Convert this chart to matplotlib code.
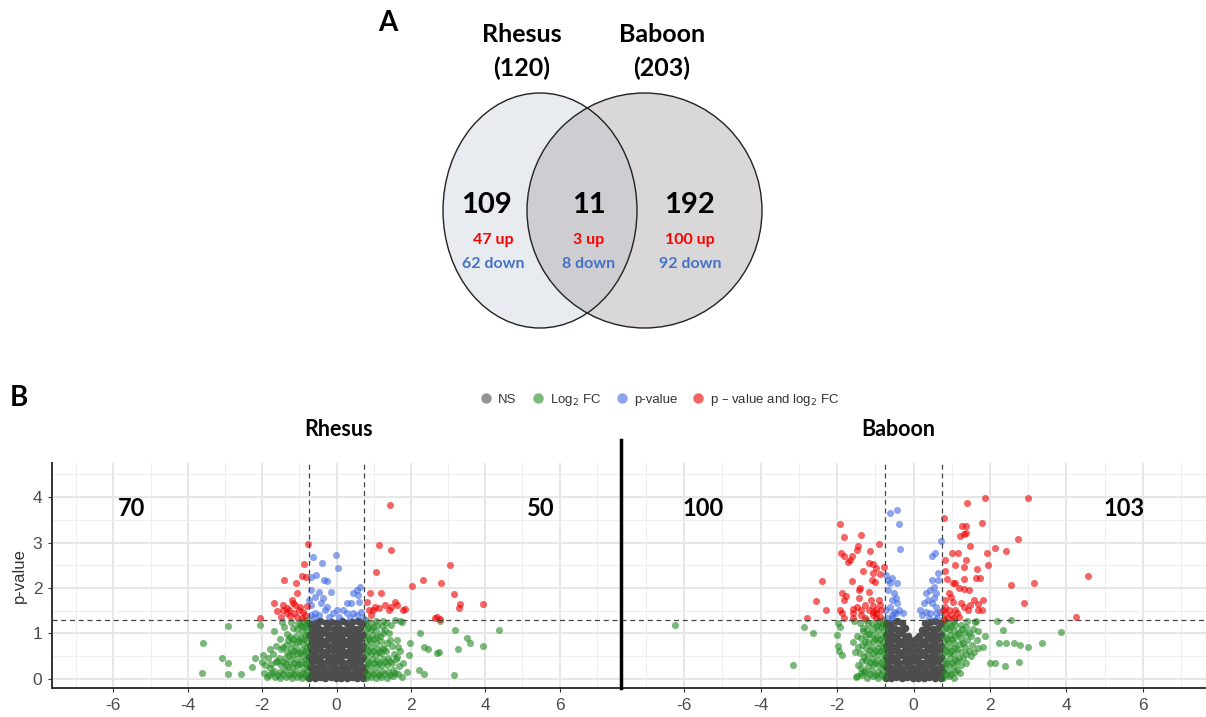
import matplotlib.pyplot as plt
from matplotlib.patches import Ellipse
from matplotlib.lines import Line2D

plt.rcParams['font.family'] = ['Liberation Sans', 'DejaVu Sans']
plt.rcParams['axes.unicode_minus'] = False
CAL = ['Lato', 'DejaVu Sans']  # stand-in for the Calibri used in the original

# ---- panel A : Venn counts ----
species = ['Rhesus', 'Baboon']
species_totals = [120, 203]
venn_counts = [109, 11, 192]  # rhesus only, shared, baboon only
venn_up = [47, 3, 100]
venn_down = [62, 8, 92]

# ---- panel B : volcano data (log2 FC, -log10 p) ----
fc_cut = 0.75
p_cut = 1.3
rhesus_side_counts = [70, 50]
baboon_side_counts = [100, 103]

rhesus_ns = [
    (-0.73, 0.03), (-0.58, 0.01), (-0.45, 0.04), (-0.30, 0.02), (-0.16, 0.05), (-0.02, 0.01), (0.12, 0.03), (0.27, 0.02), (0.41, 0.05), (0.56, 0.01), (0.71, 0.03),
    (-0.67, 0.14), (-0.52, 0.12), (-0.38, 0.15), (-0.23, 0.13), (-0.09, 0.16), (0.05, 0.12), (0.20, 0.15), (0.34, 0.13), (0.49, 0.16), (0.63, 0.12), (0.74, 0.17),
    (-0.72, 0.26), (-0.59, 0.24), (-0.44, 0.27), (-0.31, 0.25), (-0.15, 0.28), (-0.01, 0.24), (0.14, 0.27), (0.28, 0.25), (0.43, 0.28), (0.57, 0.24), (0.71, 0.27),
    (-0.66, 0.37), (-0.51, 0.39), (-0.37, 0.36), (-0.22, 0.40), (-0.08, 0.37), (0.06, 0.39), (0.21, 0.36), (0.35, 0.40), (0.50, 0.37), (0.64, 0.39),
    (-0.73, 0.49), (-0.58, 0.51), (-0.44, 0.48), (-0.29, 0.52), (-0.15, 0.49), (0.00, 0.51), (0.13, 0.48), (0.28, 0.52), (0.42, 0.49), (0.57, 0.51), (0.72, 0.48),
    (-0.66, 0.61), (-0.52, 0.63), (-0.37, 0.60), (-0.23, 0.64), (-0.08, 0.61), (0.07, 0.63), (0.21, 0.60), (0.35, 0.64), (0.50, 0.61), (0.64, 0.63),
    (-0.72, 0.73), (-0.59, 0.75), (-0.44, 0.72), (-0.30, 0.76), (-0.15, 0.73), (0.00, 0.75), (0.14, 0.72), (0.28, 0.76), (0.43, 0.73), (0.57, 0.75), (0.71, 0.72),
    (-0.66, 0.85), (-0.51, 0.87), (-0.37, 0.84), (-0.22, 0.88), (-0.08, 0.85), (0.07, 0.87), (0.21, 0.84), (0.36, 0.88), (0.50, 0.85), (0.64, 0.87),
    (-0.73, 0.97), (-0.58, 0.99), (-0.44, 0.96), (-0.29, 1.00), (-0.15, 0.97), (0.00, 0.99), (0.14, 0.96), (0.29, 1.00), (0.43, 0.97), (0.57, 0.99), (0.72, 0.96),
    (-0.66, 1.09), (-0.51, 1.11), (-0.37, 1.08), (-0.22, 1.12), (-0.08, 1.09), (0.07, 1.11), (0.21, 1.08), (0.36, 1.12), (0.50, 1.09), (0.64, 1.11),
    (-0.72, 1.21), (-0.58, 1.24), (-0.44, 1.27), (-0.29, 1.22), (-0.15, 1.26), (0.00, 1.23), (0.14, 1.27), (0.29, 1.22), (0.43, 1.25), (0.57, 1.28), (0.72, 1.23),
]
rhesus_fc = [
    (-0.78, 0.05), (-0.80, 0.18), (-0.79, 0.31), (-0.81, 0.44), (-0.78, 0.57), (-0.80, 0.70), (-0.79, 0.83), (-0.81, 0.96), (-0.78, 1.09), (-0.80, 1.22), (-0.79, 1.29),
    (-0.92, 0.02), (-0.94, 0.12), (-0.91, 0.25), (-0.95, 0.38), (-0.92, 0.51), (-0.94, 0.64), (-0.91, 0.77), (-0.95, 0.90), (-0.92, 1.03), (-0.94, 1.16), (-0.91, 1.27),
    (-1.06, 0.04), (-1.08, 0.17), (-1.05, 0.30), (-1.09, 0.43), (-1.06, 0.56), (-1.08, 0.69), (-1.05, 0.82), (-1.09, 0.95), (-1.07, 1.10), (-1.04, 1.24),
    (-1.21, 0.02), (-1.23, 0.14), (-1.20, 0.27), (-1.24, 0.40), (-1.21, 0.53), (-1.23, 0.66), (-1.19, 0.80), (-1.25, 0.93), (-1.18, 1.12), (-1.22, 1.26),
    (-1.36, 0.05), (-1.38, 0.19), (-1.35, 0.32), (-1.39, 0.46), (-1.34, 0.60), (-1.37, 0.75), (-1.33, 0.98), (-1.40, 1.15),
    (-1.51, 0.03), (-1.53, 0.16), (-1.50, 0.30), (-1.55, 0.47), (-1.49, 0.66), (-1.52, 0.88), (-1.47, 1.26),
    (-1.66, 0.04), (-1.68, 0.18), (-1.64, 0.38), (-1.70, 0.55), (-1.62, 0.72), (-1.69, 1.06),
    (-1.82, 0.08), (-1.80, 0.24), (-1.85, 0.45), (-1.78, 0.65), (-1.96, 0.12), (-1.93, 0.30), (-1.98, 0.52),
    (-0.85, 0.10), (-0.86, 0.36), (-0.84, 0.62), (-0.87, 0.88), (-0.85, 1.14), (-0.99, 0.08), (-1.00, 0.33), (-0.98, 0.58), (-1.01, 0.84), (-0.99, 1.18),
    (-1.14, 0.10), (-1.15, 0.36), (-1.13, 0.62), (-1.16, 0.88), (-1.29, 0.09), (-1.30, 0.26), (-1.28, 0.52), (-1.31, 0.85), (-1.44, 0.11), (-1.45, 0.38),
    (-1.43, 0.70), (-1.58, 0.09), (-1.60, 0.40), (-1.74, 0.12), (-1.75, 0.33), (-1.88, 0.05),
    (-3.60, 0.79), (-3.63, 0.12), (-3.09, 0.46), (-2.91, 0.34), (-2.91, 1.17), (-2.92, 0.11), (-2.57, 0.11), (-2.28, 0.26), (-2.20, 0.46), (-2.07, 1.18), (-2.01, 0.38),
    (0.78, 0.03), (0.80, 0.16), (0.79, 0.29), (0.81, 0.42), (0.78, 0.55), (0.80, 0.68), (0.79, 0.81), (0.81, 0.94), (0.78, 1.07), (0.80, 1.20), (0.79, 1.29),
    (0.92, 0.05), (0.94, 0.18), (0.91, 0.31), (0.95, 0.44), (0.92, 0.57), (0.94, 0.70), (0.91, 0.83), (0.95, 0.96), (0.92, 1.09), (0.94, 1.22),
    (1.06, 0.02), (1.08, 0.14), (1.05, 0.27), (1.09, 0.40), (1.06, 0.53), (1.08, 0.66), (1.05, 0.79), (1.09, 0.92), (1.06, 1.05), (1.08, 1.18), (1.05, 1.28),
    (1.21, 0.04), (1.23, 0.17), (1.20, 0.30), (1.24, 0.43), (1.21, 0.56), (1.23, 0.69), (1.19, 0.84), (1.25, 1.00), (1.22, 1.16), (1.26, 1.27),
    (1.36, 0.03), (1.38, 0.16), (1.35, 0.31), (1.39, 0.47), (1.34, 0.62), (1.37, 0.80), (1.40, 1.02), (1.33, 1.24),
    (1.51, 0.06), (1.53, 0.20), (1.50, 0.36), (1.55, 0.55), (1.49, 0.72), (1.46, 1.19),
    (1.66, 0.10), (1.68, 0.28), (1.64, 0.48), (1.70, 0.62), (1.72, 1.27),
    (0.85, 0.09), (0.86, 0.35), (0.84, 0.61), (0.87, 0.87), (0.85, 1.13), (0.99, 0.10), (1.00, 0.36), (0.98, 0.62), (1.01, 0.87), (0.99, 1.15),
    (1.14, 0.08), (1.15, 0.34), (1.13, 0.60), (1.16, 0.95), (1.29, 0.10), (1.30, 0.37), (1.28, 0.66), (1.31, 1.08), (1.44, 0.09), (1.45, 0.40),
    (1.43, 0.85), (1.58, 0.12), (1.60, 0.44), (1.76, 0.05), (1.80, 0.35),
    (4.38, 1.08), (3.95, 0.73), (3.58, 0.80), (3.51, 0.91), (3.19, 1.08), (3.28, 0.65), (3.17, 0.09), (2.78, 1.28), (2.24, 1.01), (2.35, 0.71),
    (2.47, 0.65), (2.70, 0.57), (2.76, 0.60), (1.98, 0.79), (1.95, 0.53), (1.90, 0.16), (2.22, 0.20), (2.35, 0.11), (1.76, 1.25), (1.58, 1.30), (1.63, 0.86), (1.66, 0.71),
]
rhesus_pv = [
    (-0.64, 2.69), (-0.01, 2.73), (-0.38, 2.56), (0.05, 2.44), (-0.54, 2.29), (-0.33, 2.18), (-0.25, 2.16), (-0.68, 2.25), (0.63, 2.03), (0.56, 1.96),
    (0.45, 1.90), (0.59, 1.85), (-0.68, 1.96), (-0.46, 1.92), (-0.16, 1.92), (-0.57, 1.81), (-0.35, 1.78), (-0.41, 1.67), (-0.68, 1.63), (-0.25, 1.59),
    (0.02, 1.52), (-0.09, 1.45), (0.29, 1.67), (0.40, 1.67), (0.61, 1.70), (0.18, 1.52), (0.29, 1.45), (0.45, 1.45), (0.56, 1.41), (0.08, 1.37),
    (-0.57, 1.45), (-0.46, 1.41), (-0.68, 1.41), (0.67, 1.48), (-0.73, 1.74), (-0.30, 1.52), (-0.20, 1.36), (0.35, 1.35), (-0.60, 1.33), (0.70, 1.33),
]
rhesus_both = [
    (1.44, 3.83), (1.14, 2.94), (1.46, 2.83), (3.04, 2.50), (1.06, 2.35), (2.32, 2.17), (2.80, 2.11), (2.04, 2.05), (0.89, 1.90), (1.20, 1.90),
    (3.16, 1.86), (3.94, 1.64), (3.33, 1.64), (3.30, 1.57), (0.83, 1.70), (1.04, 1.59), (1.15, 1.57), (1.31, 1.63), (1.47, 1.59), (1.58, 1.70),
    (1.63, 1.63), (1.79, 1.52), (1.85, 1.53), (1.42, 1.52), (0.93, 1.41), (0.99, 1.52), (2.71, 1.37), (2.65, 1.34), (0.88, 1.52), (2.77, 1.31),
    (-0.77, 2.97), (-0.88, 2.52), (-0.93, 2.27), (-0.81, 2.25), (-1.40, 2.18), (-1.10, 2.11), (-1.05, 1.89), (-1.68, 1.67), (-1.21, 1.74), (-1.16, 1.68),
    (-1.34, 1.56), (-1.27, 1.52), (-1.00, 1.52), (-0.89, 1.48), (-0.98, 1.59), (-1.13, 1.45), (-1.43, 1.52), (-1.59, 1.50), (-1.32, 1.45), (-0.84, 1.41),
    (-2.06, 1.35), (-1.25, 1.38), (-1.05, 1.36), (-0.92, 1.34), (-1.50, 1.36), (-0.80, 1.60), (-1.12, 1.62), (-1.45, 1.62),
]

baboon_ns = [
    (-0.73, 0.03), (-0.58, 0.01), (-0.45, 0.04), (-0.30, 0.02), (-0.16, 0.05), (-0.02, 0.01), (0.12, 0.03), (0.27, 0.02), (0.41, 0.05), (0.56, 0.01), (0.71, 0.03),
    (-0.67, 0.14), (-0.52, 0.12), (-0.38, 0.15), (-0.23, 0.13), (-0.09, 0.16), (0.05, 0.12), (0.20, 0.15), (0.34, 0.13), (0.49, 0.16), (0.63, 0.12), (0.74, 0.17),
    (-0.72, 0.26), (-0.59, 0.24), (-0.44, 0.27), (-0.31, 0.25), (-0.15, 0.28), (-0.01, 0.24), (0.14, 0.27), (0.28, 0.25), (0.43, 0.28), (0.57, 0.24), (0.71, 0.27),
    (-0.66, 0.37), (-0.51, 0.39), (-0.37, 0.36), (-0.22, 0.40), (-0.08, 0.37), (0.06, 0.39), (0.21, 0.36), (0.35, 0.40), (0.50, 0.37), (0.64, 0.39),
    (-0.73, 0.49), (-0.58, 0.51), (-0.44, 0.48), (-0.29, 0.52), (-0.15, 0.49), (0.00, 0.51), (0.13, 0.48), (0.28, 0.52), (0.42, 0.49), (0.57, 0.51), (0.72, 0.48),
    (-0.66, 0.61), (-0.52, 0.63), (-0.37, 0.60), (-0.23, 0.64), (-0.08, 0.61), (0.07, 0.63), (0.21, 0.60), (0.35, 0.64), (0.50, 0.61), (0.64, 0.63),
    (-0.72, 0.73), (-0.59, 0.75), (-0.44, 0.72), (-0.30, 0.76), (-0.15, 0.73), (0.00, 0.75), (0.14, 0.72), (0.28, 0.76), (0.43, 0.73), (0.57, 0.75), (0.71, 0.72),
    (-0.66, 0.85), (-0.51, 0.87), (-0.37, 0.84), (-0.22, 0.88), (-0.08, 0.85), (0.07, 0.87), (0.21, 0.84), (0.36, 0.88), (0.50, 0.85), (0.64, 0.87),
    (-0.73, 0.97), (-0.58, 0.99), (-0.44, 0.96), (-0.29, 1.00), (-0.15, 0.95), (0.14, 0.94), (0.29, 1.00), (0.43, 0.97), (0.57, 0.99), (0.72, 0.96),
    (-0.66, 1.09), (-0.51, 1.11), (-0.37, 1.08), (-0.22, 1.12), (0.21, 1.08), (0.36, 1.12), (0.50, 1.09), (0.64, 1.11),
    (-0.72, 1.21), (-0.58, 1.24), (-0.44, 1.27), (-0.29, 1.22), (0.29, 1.22), (0.43, 1.25), (0.57, 1.28), (0.72, 1.23),
]
baboon_fc = [
    (-0.78, 0.04), (-0.80, 0.17), (-0.79, 0.30), (-0.81, 0.43), (-0.78, 0.56), (-0.80, 0.69), (-0.79, 0.82), (-0.81, 0.95), (-0.78, 1.08), (-0.80, 1.21), (-0.79, 1.29),
    (-0.92, 0.02), (-0.94, 0.15), (-0.91, 0.28), (-0.95, 0.41), (-0.92, 0.54), (-0.94, 0.67), (-0.91, 0.80), (-0.95, 0.93), (-0.92, 1.06), (-0.94, 1.19), (-0.90, 1.28),
    (-1.06, 0.06), (-1.08, 0.19), (-1.05, 0.32), (-1.09, 0.45), (-1.06, 0.58), (-1.08, 0.71), (-1.05, 0.84), (-1.09, 0.97), (-1.06, 1.10), (-1.08, 1.23),
    (-1.21, 0.03), (-1.23, 0.16), (-1.20, 0.29), (-1.24, 0.42), (-1.21, 0.55), (-1.23, 0.68), (-1.19, 0.81), (-1.25, 0.94), (-1.22, 1.07), (-1.20, 1.20), (-1.24, 1.29),
    (-1.36, 0.08), (-1.38, 0.25), (-1.35, 0.40), (-1.39, 0.58), (-1.34, 0.74), (-1.37, 0.90), (-1.33, 1.05), (-1.40, 1.22),
    (-1.50, 0.05), (-1.52, 0.60), (-1.48, 0.95), (-1.55, 1.28),
    (-0.85, 0.10), (-0.86, 0.36), (-0.84, 0.62), (-0.87, 0.88), (-0.85, 1.14), (-0.99, 0.08), (-1.00, 0.36), (-0.98, 0.62), (-1.01, 0.88), (-0.99, 1.16),
    (-1.14, 0.10), (-1.15, 0.38), (-1.13, 0.64), (-1.16, 0.98), (-1.29, 0.18), (-1.30, 0.48), (-1.28, 0.82), (-1.31, 1.12), (-1.44, 0.30), (-1.45, 0.70),
    (-6.23, 1.19), (-2.86, 1.14), (-2.63, 1.02), (-3.15, 0.31), (-1.98, 1.22), (-1.92, 1.14), (-1.99, 0.97), (-1.97, 0.73), (-1.95, 0.62), (-1.87, 0.53),
    (-1.59, 0.82), (-1.47, 0.07), (-1.37, 0.12),
    (0.78, 0.03), (0.80, 0.16), (0.79, 0.29), (0.81, 0.42), (0.78, 0.55), (0.80, 0.68), (0.79, 0.81), (0.81, 0.94), (0.78, 1.07), (0.80, 1.20), (0.79, 1.29),
    (0.92, 0.06), (0.94, 0.19), (0.91, 0.32), (0.95, 0.45), (0.92, 0.58), (0.94, 0.71), (0.91, 0.84), (0.95, 0.97), (0.92, 1.10), (0.94, 1.23),
    (1.06, 0.02), (1.08, 0.15), (1.05, 0.28), (1.09, 0.41), (1.06, 0.54), (1.08, 0.67), (1.05, 0.80), (1.09, 0.93), (1.06, 1.06), (1.08, 1.19), (1.05, 1.28),
    (1.21, 0.12), (1.23, 0.30), (1.20, 0.46), (1.24, 0.60), (1.21, 0.76), (1.23, 0.90), (1.19, 1.04), (1.25, 1.18),
    (1.36, 0.35), (1.38, 0.55), (1.35, 0.70), (1.39, 0.85), (1.34, 1.00), (1.37, 1.15), (1.40, 1.27),
    (1.51, 0.50), (1.53, 0.75), (1.50, 0.95), (1.55, 1.10), (1.60, 1.25), (1.66, 0.85), (1.68, 1.05),
    (0.85, 0.09), (0.86, 0.35), (0.84, 0.61), (0.87, 0.87), (0.85, 1.13), (0.99, 0.10), (1.00, 0.36), (0.98, 0.62), (1.01, 0.88), (0.99, 1.16),
    (1.14, 0.20), (1.15, 0.40), (1.13, 0.66), (1.16, 0.98), (1.29, 0.45), (1.30, 0.80), (1.28, 1.10), (1.44, 0.62), (1.45, 1.00), (1.58, 0.60),
    (3.85, 1.03), (3.37, 0.78), (3.00, 0.71), (2.79, 0.75), (2.62, 0.78), (2.41, 0.80), (2.23, 0.78), (2.33, 1.08), (2.54, 1.30), (2.18, 1.28),
    (2.77, 0.38), (2.40, 0.29), (2.13, 0.36), (2.00, 0.36), (1.88, 0.95), (1.81, 0.71), (1.68, 0.69), (1.63, 1.28),
]
baboon_pv = [
    (-0.62, 3.64), (-0.42, 3.71), (-0.37, 3.40), (-0.35, 2.85), (0.73, 3.03), (0.56, 2.78), (0.49, 2.71),
    (-0.72, 2.29), (-0.67, 2.18), (-0.57, 2.21), (-0.62, 2.10), (-0.42, 2.10), (-0.67, 1.96), (-0.52, 1.88), (-0.57, 1.74), (-0.47, 1.77),
    (-0.42, 1.66), (-0.62, 1.59), (-0.72, 1.52), (-0.52, 1.48), (-0.37, 1.52), (-0.57, 1.41), (-0.47, 1.44), (-0.27, 1.44),
    (0.65, 2.32), (0.63, 2.18), (0.48, 2.18), (0.53, 2.03), (0.43, 1.96), (0.33, 1.88), (0.58, 1.88), (0.53, 1.77), (0.38, 1.74),
    (0.48, 1.66), (0.58, 1.59), (0.28, 1.66), (0.18, 1.52), (0.33, 1.48), (0.43, 1.44), (0.23, 1.41), (0.58, 1.44), (0.68, 1.48),
    (-0.70, 1.35), (-0.55, 1.33), (0.40, 1.34), (0.62, 1.33),
]
baboon_both = [
    (1.86, 3.99), (3.00, 3.99), (1.41, 3.88), (0.79, 3.55), (1.28, 3.37), (1.38, 3.37), (1.79, 3.42), (1.21, 3.15), (1.31, 3.19), (1.37, 3.22),
    (2.74, 3.07), (1.48, 2.92), (2.13, 2.89), (2.43, 2.82), (1.01, 2.76), (1.16, 2.76), (1.93, 2.76), (0.83, 2.62), (1.38, 2.62), (1.08, 2.51),
    (1.33, 2.47), (1.95, 2.50), (1.65, 2.42), (4.57, 2.26), (0.83, 2.37), (1.63, 2.23), (1.73, 2.23), (1.08, 2.12), (1.33, 2.19), (0.88, 2.19),
    (3.15, 2.12), (2.54, 2.07), (1.18, 1.99), (1.31, 1.97), (1.45, 1.96), (0.93, 1.88), (0.98, 1.81), (0.83, 1.74), (1.03, 1.70), (0.83, 1.59),
    (0.93, 1.52), (1.08, 1.52), (0.83, 1.44), (0.98, 1.41), (1.13, 1.44), (0.78, 1.52), (1.68, 1.65), (1.48, 1.63), (1.68, 1.52), (1.78, 1.52),
    (1.33, 1.59), (1.43, 1.52), (1.23, 1.66), (1.03, 2.10), (1.83, 1.74), (1.58, 1.74), (2.90, 1.68), (4.24, 1.37), (0.90, 1.35), (1.05, 1.33),
    (1.20, 1.36), (0.80, 1.32),
    (-1.92, 3.40), (-1.82, 3.13), (-1.38, 3.17), (-0.89, 2.96), (-1.44, 2.93), (-1.49, 2.84), (-1.15, 2.82), (-1.90, 2.76), (-1.82, 2.71), (-1.62, 2.71),
    (-1.72, 2.58), (-1.67, 2.62), (-1.17, 2.56), (-1.07, 2.53), (-0.77, 2.47), (-0.97, 2.43), (-1.32, 2.37), (-1.05, 2.32), (-0.87, 2.31), (-2.40, 2.15),
    (-1.62, 2.16), (-1.09, 2.18), (-1.02, 2.14), (-1.40, 1.99), (-1.42, 1.96), (-1.17, 1.92), (-1.87, 1.88), (-1.77, 1.83), (-1.82, 1.74), (-1.42, 1.77),
    (-1.12, 1.74), (-0.89, 1.74), (-2.56, 1.72), (-1.27, 1.63), (-1.07, 1.60), (-0.87, 1.63), (-1.47, 1.59), (-1.57, 1.53), (-1.37, 1.52), (-1.17, 1.52),
    (-0.97, 1.52), (-0.85, 1.52), (-0.97, 1.44), (-1.07, 1.41), (-1.37, 1.41), (-1.57, 1.44), (-1.07, 1.48), (-2.28, 1.52), (-1.93, 1.52), (-1.87, 1.44),
    (-2.78, 1.34), (-1.82, 1.33), (-1.59, 1.33), (-1.27, 1.33), (-0.97, 1.33), (-0.87, 1.36),
]

legend_labels = ['NS', 'Log$_2$ FC', 'p-value', 'p \u2013 value and log$_2$ FC']
point_colors = ['#4D4D4D', '#228B22', '#4169E1', '#EE0000']
point_alpha = [1.0, 0.6, 0.6, 0.6]
point_size = [30, 26, 26, 26]

W, H = 1206, 717


def px_axes(x0, y0, x1, y1):
    """axes rectangle from pixel box (top-left origin)"""
    return [x0 / W, 1 - y1 / H, (x1 - x0) / W, (y1 - y0) / H]


def plot_volcano(ax, groups, counts, title, title_x, show_y=True):
    for pts, col, a, s in zip(groups, point_colors, point_alpha, point_size):
        xs, ys = zip(*pts)
        ax.scatter(xs, ys, s=s, color=col, alpha=a, linewidths=0, zorder=2)
    for v in (-fc_cut, fc_cut):
        ax.axvline(v, color='#444444', lw=0.9, ls=(0, (4, 3)), zorder=4)
    ax.axhline(p_cut, color='#444444', lw=0.9, ls=(0, (4, 3)), zorder=4)

    ax.set_xlim(-7.65, 7.65)
    ax.set_ylim(-0.2, 4.75)
    ax.set_xticks(range(-6, 7, 2))
    ax.set_xticks(range(-7, 8, 2), minor=True)
    ax.set_yticks(range(0, 5))
    ax.set_yticks([0.5, 1.5, 2.5, 3.5, 4.5], minor=True)
    ax.grid(True, which='major', color='#E6E6E6', lw=1.4)
    ax.grid(True, which='minor', color='#EFEFEF', lw=0.8)
    ax.set_axisbelow(True)
    ax.tick_params(which='minor', length=0)
    ax.tick_params(which='major', length=3, width=0.8, color='#333333',
                   labelsize=12.5, labelcolor='#4D4D4D', pad=4)
    for s in ('top', 'right'):
        ax.spines[s].set_visible(False)
    ax.spines['bottom'].set_color('#333333')
    ax.spines['bottom'].set_linewidth(1.4)
    if show_y:
        ax.spines['left'].set_color('#333333')
        ax.spines['left'].set_linewidth(1.4)
        ax.set_ylabel('p-value', fontsize=12, color='#333333', labelpad=4)
    else:
        ax.spines['left'].set_visible(False)
        ax.tick_params(axis='y', left=False, labelleft=False)

    ax.text(-5.5, 3.74, str(counts[0]), fontsize=17, fontweight='bold',
            family=CAL, ha='center', va='center')
    ax.text(5.5, 3.74, str(counts[1]), fontsize=17, fontweight='bold',
            family=CAL, ha='center', va='center')
    ax.text(title_x, 1 + 33 / 225, title, transform=ax.transAxes, fontsize=15.5,
            fontweight='bold', family=CAL, ha='center', va='center')


fig = plt.figure(figsize=(W / 100, H / 100), dpi=100)

# panel A drawn on a pixel-space overlay
ov = fig.add_axes([0, 0, 1, 1])
ov.set_xlim(0, W)
ov.set_ylim(H, 0)
ov.axis('off')

ov.add_patch(Ellipse((540, 210.5), 194, 235, facecolor='#E8EBF0', edgecolor='none'))
ov.add_patch(Ellipse((644.5, 210.5), 235, 235, facecolor='#B5B1B3', alpha=0.5, edgecolor='none'))
ov.add_patch(Ellipse((540, 210.5), 194, 235, fill=False, edgecolor='#222222', lw=1.0))
ov.add_patch(Ellipse((644.5, 210.5), 235, 235, fill=False, edgecolor='#222222', lw=1.0))

ov.text(388, 23, 'A', fontsize=20, fontweight='bold', family=CAL, ha='center', va='center')
for name, tot, cx in zip(species, species_totals, [522, 662]):
    ov.text(cx, 35, name, fontsize=18, fontweight='bold', family=CAL, ha='center', va='center')
    ov.text(cx, 68, '(%d)' % tot, fontsize=18, fontweight='bold', family=CAL, ha='center', va='center')
for n, up, down, cx in zip(venn_counts, venn_up, venn_down, [487, 589, 690]):
    ov.text(cx, 205, str(n), fontsize=21, fontweight='bold', family=CAL, ha='center', va='center')
    ov.text(cx + 6 * (cx == 487), 240, '%d up' % up, fontsize=11.5, fontweight='bold',
            color='#FF0000', family=CAL, ha='center', va='center')
    ov.text(cx + 6 * (cx == 487), 264, '%d down' % down, fontsize=11.5, fontweight='bold',
            color='#4472C4', family=CAL, ha='center', va='center')

ov.text(19, 398, 'B', fontsize=20, fontweight='bold', family=CAL, ha='center', va='center')

# panel B
ax1 = fig.add_axes(px_axes(52, 463, 621, 688))
plot_volcano(ax1, [rhesus_ns, rhesus_fc, rhesus_pv, rhesus_both], rhesus_side_counts,
             species[0], (339 - 52) / 569)
ax2 = fig.add_axes(px_axes(621, 463, 1206, 688))
plot_volcano(ax2, [baboon_ns, baboon_fc, baboon_pv, baboon_both], baboon_side_counts,
             species[1], (898 - 621) / 585, show_y=False)

# black divider between the two volcano panels
fig.add_artist(Line2D([621 / W, 621 / W], [1 - 440 / H, 1 - 688 / H], color='black', lw=2.5))

handles = [Line2D([], [], marker='o', ls='none', color=c, alpha=0.6, markersize=7.5,
                  markeredgewidth=0) for c in point_colors]
fig.legend(handles, legend_labels, loc='center', bbox_to_anchor=(659 / W, 1 - 400 / H),
           ncol=4, frameon=False, fontsize=9.5, handletextpad=0.3, columnspacing=1.0,
           handlelength=1.2, labelcolor='#333333')

fig.savefig('out.png', dpi=100)
